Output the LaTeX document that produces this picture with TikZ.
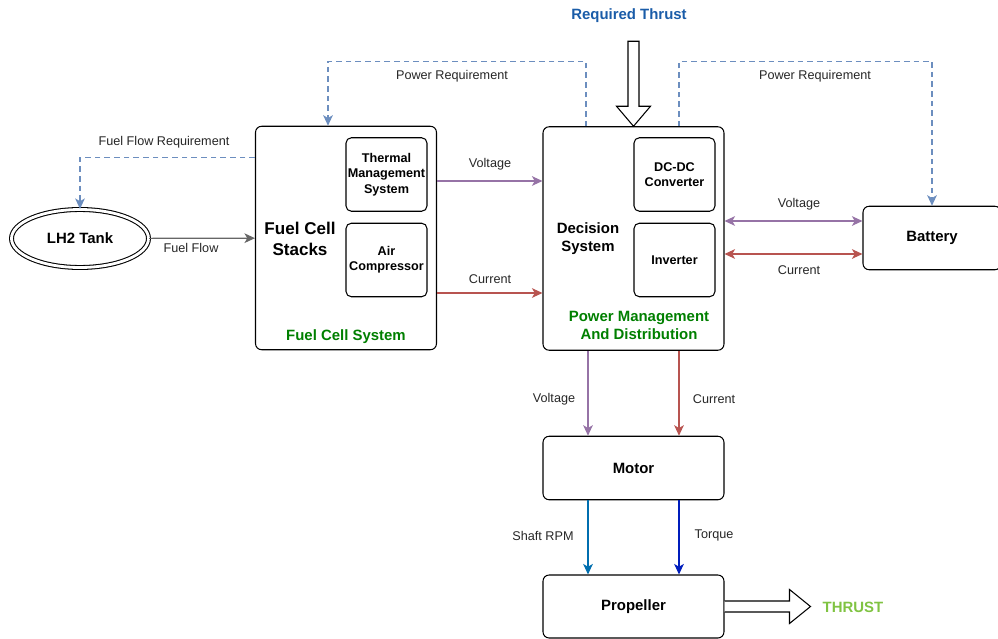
\documentclass[tikz,border=0pt]{standalone}
\usepackage{fontspec}
\setmainfont{Liberation Sans}
\usetikzlibrary{arrows.meta,positioning,calc,shapes.geometric}
\definecolor{reqblue}{HTML}{6C8EBF}
\definecolor{voltc}{HTML}{9673A6}
\definecolor{currc}{HTML}{B85450}
\definecolor{rpmc}{HTML}{006EAF}
\definecolor{torqc}{HTML}{001DBC}
\definecolor{sysgreen}{HTML}{007F00}
\definecolor{thrgreen}{HTML}{80C342}
\definecolor{thrblue}{HTML}{1A5CA8}

\begin{document}
\begin{tikzpicture}[x=0.02cm,y=-0.02cm,on grid,
  >={Stealth[length=6pt,width=5.5pt,inset=1.6pt]},
  big/.style={draw,rounded corners=3.5pt,line width=0.6pt,minimum width=3.62cm,minimum height=4.47cm,inner sep=0pt},
  small/.style={draw,rounded corners=3pt,line width=0.6pt,minimum width=1.62cm,minimum height=1.47cm,inner sep=0pt,
    align=center,font=\bfseries\fontsize{7.2}{8.8}\selectfont},
  blk/.style={draw,rounded corners=3.5pt,line width=0.6pt,minimum width=3.62cm,minimum height=1.27cm,inner sep=0pt,
    font=\bfseries\fontsize{8.5}{10}\selectfont},
  tank/.style={ellipse,draw,double,double distance=1.6pt,line width=0.6pt,minimum width=2.74cm,minimum height=1.16cm,
    inner sep=0pt,font=\bfseries\fontsize{8.5}{10}\selectfont},
  title/.style={align=center,font=\bfseries\fontsize{8.5}{10.2}\selectfont},
  gtitle/.style={title,text=sysgreen,yshift=-0.9pt},
  lbl/.style={font=\fontsize{7.2}{8.8}\selectfont,text=black!85,yshift=-0.9pt},
  req/.style={->,draw=reqblue,line width=0.75pt,dash pattern=on 3.2pt off 2.3pt},
  flow/.style={->,line width=0.7pt},
  hollow/.style={draw,line width=0.6pt,fill=white,line join=miter}]

  \useasboundingbox (0,0) rectangle (998,639);

  % fuel side
  \node[tank] (tank) at (80,238.5) {LH2 Tank};
  \node[big] (fc) at (346,238) {};
  \node[small] (tms) at (386.5,174.5) {Thermal\\Management\\System};
  \node[small] (ac) [below=1.71cm of tms] {Air\\Compressor};
  \node[align=center,font=\bfseries\fontsize{9.7}{12}\selectfont] (stacks) at (300,239) {Fuel Cell\\Stacks};
  \node[gtitle] (fcsys) at (346,335) {Fuel Cell System};

  % power management
  \node[big] (pmad) at (633.5,238.5) {};
  \node[small] (dcdc) at (674.5,174.5) {DC-DC\\Converter};
  \node[small] (inv) [below=1.71cm of dcdc] {Inverter};
  \node[title] (dec) at (588,239) {Decision\\System};
  \node[gtitle] (pmadtxt) at (639,324) {Power Management\\And Distribution};

  \node[blk,minimum width=2.76cm] (bat) at (932,238) {Battery};
  \node[blk] (motor) at (633.5,468) {Motor};
  \node[blk,minimum height=1.26cm] (prop) at (633.5,606.5) {Propeller};

  \node[title,text=thrblue,yshift=-0.9pt] (reqthr) at (629,14) {Required Thrust};
  \node[title,text=thrgreen] (thrust) at (853,607) {THRUST};

  % requirements
  \draw[req] ($(fc.north west)+(0,32)$) -| (tank.north);
  \node[lbl] at (164,141) {Fuel Flow Requirement};
  \draw[req] ($(pmad.north)+(-47.5,0)$) -- ++(0,-65) -| ($(fc.north)+(-18,0)$);
  \node[lbl] at (452,75) {Power Requirement};
  \draw[req] ($(pmad.north)+(45.5,0)$) -- ++(0,-65) -| (bat.north);
  \node[lbl] at (815,75) {Power Requirement};

  % flows
  \draw[flow,draw=black!60] (tank) -- (fc);
  \node[lbl] at (191,246) {Fuel Flow};
  \draw[flow,draw=voltc] ($(fc.east)+(0,-57)$) coordinate (v1) -- (v1 -| pmad.west);
  \node[lbl] at (490,163) {Voltage};
  \draw[flow,draw=currc] ($(fc.east)+(0,55)$) coordinate (c1) -- (c1 -| pmad.west);
  \node[lbl] at (490,278) {Current};
  \draw[flow,<->,draw=voltc] ($(bat.west)+(0,-17)$) coordinate (v2) -- (v2 -| pmad.east);
  \node[lbl] at (799,203) {Voltage};
  \draw[flow,<->,draw=currc] ($(bat.west)+(0,16)$) coordinate (c2) -- (c2 -| pmad.east);
  \node[lbl] at (799,269) {Current};
  \draw[flow,draw=voltc] ($(motor.north)+(-45.5,0)$) coordinate (v3) (v3 |- pmad.south) -- (v3);
  \node[lbl] at (554,398) {Voltage};
  \draw[flow,draw=currc] ($(motor.north)+(45.5,0)$) coordinate (c3) (c3 |- pmad.south) -- (c3);
  \node[lbl] at (714,398) {Current};
  \draw[flow,draw=rpmc] ($(prop.north)+(-45.5,0)$) coordinate (r1) (r1 |- motor.south) -- (r1);
  \node[lbl] at (543,534) {Shaft RPM};
  \draw[flow,draw=torqc] ($(prop.north)+(45.5,0)$) coordinate (t1) (t1 |- motor.south) -- (t1);
  \node[lbl] at (714,534) {Torque};

  % big hollow arrows
  \draw[hollow] (pmad.north) -- ++(17,-20) -- ++(-11.5,0) -- ++(0,-65) -- ++(-11,0) -- ++(0,65) -- ++(-11.5,0) -- cycle;
  \draw[hollow] ($(prop.east)+(0,-5.5)$) -- ++(65,0) -- ++(0,-11.5) -- ++(21,17) -- ++(-21,17) -- ++(0,-11.5) -- ++(-65,0);
\end{tikzpicture}
\end{document}
